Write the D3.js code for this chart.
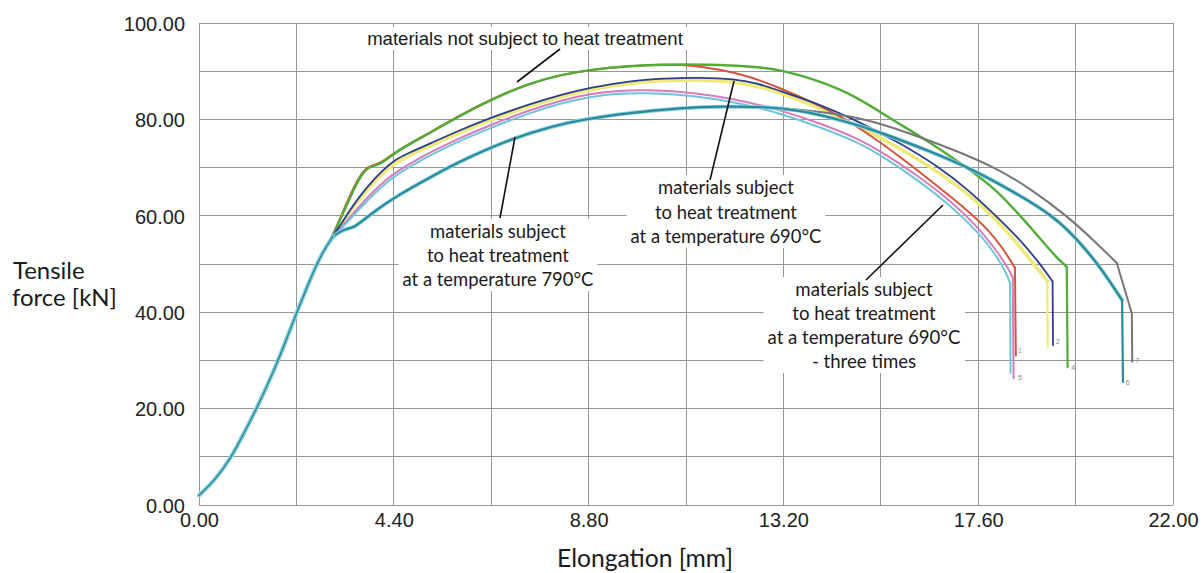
<!DOCTYPE html>
<html>
<head>
<meta charset="utf-8">
<script src="https://cdn.jsdelivr.net/npm/d3@7/dist/d3.min.js"></script>
<style>
  html, body { margin: 0; padding: 0; background: #ffffff; }
  svg { display: block; }
</style>
</head>
<body>
<svg id="chart" width="1202" height="573"></svg>
<script>
// ---------------- DATA (elongation mm, force kN) ----------------
const xTickLabels = [0, 4.4, 8.8, 13.2, 17.6, 22.0];
const yTickLabels = [0, 20, 40, 60, 80, 100];
const xGrid = [0, 2.2, 4.4, 6.6, 8.8, 11.0, 13.2, 15.4, 17.6, 19.8, 22.0];
const yGrid = [0, 10, 20, 30, 40, 50, 60, 70, 80, 90, 100];

const elastic = [[0,2],[0.35,5.0],[0.74,10],[1.02,15],[1.30,20],[1.55,25],[1.79,30],[2.0,35],[2.21,40],[2.43,45],[2.66,50],[2.85,53.3]];

// not subject to heat treatment
const greenCurve = [[3.03,55.9],[3.3,61.5],[3.57,67.0],[3.75,69.6],[3.91,70.3],[4.09,70.7],[4.3,72.2],[4.6,74.1],[5.22,77.2],[5.9,80.8],[6.57,84.0],[7.48,87.6],[8.2,89.3],[8.83,90.3],[9.74,91.1],[10.5,91.4],[11.5,91.4],[12.5,91.0],[13.2,90.2],[14.0,88.0],[14.8,85.0],[15.65,80.0],[16.5,75.3],[17.35,70.0],[18.0,65.5],[18.55,60.0],[19.0,55.3],[19.35,51.5],[19.6,49.4]];
const greenBreak = [[19.6,49.4],[19.62,28.6]];
const redCurve = [[3.03,56.0],[3.3,62.0],[3.57,67.4],[3.75,69.8],[3.91,70.5],[4.09,70.9],[4.3,72.3],[4.6,74.2],[5.22,77.3],[5.9,80.9],[6.57,84.1],[7.48,87.6],[8.2,89.3],[8.83,90.3],[9.74,91.1],[10.5,91.4],[11.1,91.3],[11.8,90.3],[12.45,88.9],[13.1,86.6],[13.8,83.8],[14.5,80.6],[15.15,76.8],[15.9,71.8],[16.7,66.0],[17.3,61.6],[17.8,57.4],[18.15,53.4],[18.43,49.2]];
const redBreak = [[18.43,49.2],[18.45,31.0]];

// heat treatment 690 °C
const yellowCurve = [[3.03,55.8],[3.3,59.3],[3.6,63.3],[4.0,67.5],[4.38,70.8],[4.8,72.8],[5.22,74.5],[5.9,77.3],[6.57,79.9],[7.48,82.8],[8.2,84.8],[8.83,86.2],[9.74,87.6],[10.5,88.1],[11.3,88.2],[12.1,87.8],[12.6,86.9],[13.1,85.6],[14.0,82.5],[15.0,78.2],[16.0,73.2],[17.0,67.3],[17.7,62.0],[18.3,56.4],[18.85,50.0],[19.16,46.5]];
const yellowBreak = [[19.16,46.5],[19.17,32.8]];
const navyCurve = [[3.03,55.8],[3.3,59.6],[3.6,63.8],[4.0,68.1],[4.38,71.5],[4.8,73.3],[5.22,75.0],[5.9,77.8],[6.57,80.3],[7.48,83.2],[8.2,85.2],[8.83,86.6],[9.74,88.0],[10.5,88.5],[11.3,88.7],[12.1,88.4],[12.6,87.5],[13.1,86.0],[14.0,83.2],[14.8,80.0],[15.8,75.3],[16.74,70.0],[17.4,65.2],[18.0,60.0],[18.55,55.0],[19.0,50.0],[19.28,46.4]];
const navyBreak = [[19.28,46.4],[19.29,33.2]];

// heat treatment 690 °C - three times
const pinkCurve = [[3.03,55.6],[3.3,58.6],[3.7,62.8],[4.09,66.5],[4.47,69.3],[5.22,73.2],[5.9,76.2],[6.57,78.8],[7.48,82.0],[8.2,84.0],[8.83,85.3],[9.5,86.0],[10.1,86.1],[10.8,85.8],[11.6,85.0],[12.4,83.6],[13.1,82.0],[14.0,79.3],[14.9,76.0],[15.5,72.8],[16.3,67.9],[17.0,62.9],[17.6,57.6],[18.0,53.0],[18.3,48.8],[18.38,47.2]];
const pinkBreak = [[18.38,47.2],[18.4,26.3]];
const lightBlueCurve = [[3.03,55.5],[3.3,58.2],[3.7,62.2],[4.09,65.8],[4.47,68.7],[5.22,72.6],[5.9,75.6],[6.57,78.2],[7.48,81.4],[8.2,83.4],[8.83,84.7],[9.5,85.4],[10.1,85.5],[10.8,85.2],[11.6,84.4],[12.4,83.0],[13.1,81.3],[14.0,78.5],[14.9,75.2],[15.5,72.0],[16.3,67.0],[17.0,61.9],[17.6,56.6],[18.0,52.0],[18.25,47.8],[18.32,46.0]];
const lightBlueBreak = [[18.32,46.0],[18.33,27.4]];

// heat treatment 790 °C
const tealCurve = [[3.03,55.8],[3.2,56.8],[3.34,57.3],[3.5,57.6],[3.7,59.0],[4.0,61.2],[4.5,64.3],[5.22,68.0],[6.0,71.8],[7.14,76.3],[8.0,78.6],[8.6,79.9],[9.74,81.4],[10.9,82.4],[11.8,82.7],[12.8,82.6],[13.5,82.0],[14.48,80.0],[15.5,77.0],[16.5,73.4],[17.4,70.0],[18.4,65.0],[19.3,60.0],[19.85,55.0],[20.3,50.0],[20.6,46.0],[20.85,42.5]];
const tealBreak = [[20.85,42.5],[20.87,25.5]];
const grayCurve = [[3.03,55.8],[3.2,56.8],[3.34,57.3],[3.5,57.6],[3.7,59.0],[4.0,61.2],[4.5,64.3],[5.22,68.0],[6.0,71.8],[7.14,76.3],[8.0,78.6],[8.6,79.9],[9.74,81.4],[10.9,82.4],[11.8,82.7],[12.8,82.6],[13.5,82.1],[14.3,81.3],[15.08,80.0],[16.0,77.3],[17.0,73.9],[18.0,70.0],[18.8,65.5],[19.6,60.0],[20.2,55.0],[20.73,50.2]];
const grayBreak = [[20.73,50.2],[21.07,39.8],[21.08,29.7]];

const endLabels = [["1",18.5,31.5],["5",18.5,26.0],["2",19.35,33.5],["4",19.7,28.0],["6",20.93,25.0],["7",21.15,29.5]];

const seriesNames = ["yellow","pink","lightBlue","red","green","navy","gray","teal"];
const seriesColors = ["#efe97a","#d57cb9","#6cc4df","#d3553a","#52ac38","#2b3e8c","#767676","#2a8a9b"];
const seriesWidths = [3.5,2,2,2,2.4,1.8,2,2.2];
const seriesCurves = [yellowCurve,pinkCurve,lightBlueCurve,redCurve,greenCurve,navyCurve,grayCurve,tealCurve];
const seriesBreaks = [yellowBreak,pinkBreak,lightBlueBreak,redBreak,greenBreak,navyBreak,grayBreak,tealBreak];

// ---------------- CHART ----------------
const svg = d3.select("#chart");
const x = d3.scaleLinear().domain([0, 22]).range([199, 1173]);
const y = d3.scaleLinear().domain([0, 100]).range([505, 23]);

const grid = svg.append("g");
grid.selectAll("line.v").data(xGrid).join("line")
  .attr("x1", d => x(d)).attr("x2", d => x(d))
  .attr("y1", y(0)).attr("y2", y(100))
  .attr("stroke", "#969696").attr("stroke-width", 1).attr("shape-rendering", "crispEdges");
grid.selectAll("line.h").data(yGrid).join("line")
  .attr("x1", x(0)).attr("x2", x(22))
  .attr("y1", d => y(d)).attr("y2", d => y(d))
  .attr("stroke", "#969696").attr("stroke-width", 1).attr("shape-rendering", "crispEdges");

// axes (labels only)
const fmt = d3.format(".2f");
const yAxis = svg.append("g").attr("transform", `translate(${x(0) - 14},0)`)
  .call(d3.axisLeft(y).tickValues(yTickLabels).tickFormat(fmt).tickSize(0).tickPadding(0));
yAxis.select(".domain").remove();
yAxis.selectAll("text").attr("font-family", "'Liberation Sans', Arial, sans-serif")
  .attr("font-size", 20).attr("fill", "#222").attr("dy", "0.36em");

const xAxis = svg.append("g").attr("transform", `translate(0,${y(0)})`)
  .call(d3.axisBottom(x).tickValues(xTickLabels).tickFormat(fmt).tickSize(0).tickPadding(8));
xAxis.select(".domain").remove();
xAxis.selectAll("text").attr("font-family", "'Liberation Sans', Arial, sans-serif")
  .attr("font-size", 20).attr("fill", "#222").attr("dy", "0.72em");

// curves
const smooth = d3.line().x(d => x(d[0])).y(d => y(d[1])).curve(d3.curveBasis);
const straight = d3.line().x(d => x(d[0])).y(d => y(d[1]));
const curves = svg.append("g").attr("fill", "none").attr("stroke-linejoin", "round").attr("stroke-linecap", "round");
seriesNames.forEach((name, i) => {
  const pts = elastic.concat(seriesCurves[i]);
  if (name === "teal") {
    curves.append("path").attr("d", smooth(pts))
      .attr("stroke", "#8fd2e0").attr("stroke-width", 4);
  }
  curves.append("path").attr("d", smooth(pts))
    .attr("stroke", seriesColors[i]).attr("stroke-width", seriesWidths[i]);
  curves.append("path").attr("d", straight(seriesBreaks[i]))
    .attr("stroke", seriesColors[i]).attr("stroke-width", Math.min(seriesWidths[i], 2.2));
});
// shared elastic part on top
curves.append("path").attr("d", smooth(elastic.concat([tealCurve[0]])))
  .attr("stroke", "#8fd3e2").attr("stroke-width", 4);
curves.append("path").attr("d", smooth(elastic.concat([tealCurve[0]])))
  .attr("stroke", "#2f8e9e").attr("stroke-width", 1.6);

svg.append("g").selectAll("text").data(endLabels).join("text")
  .attr("x", d => x(d[1])).attr("y", d => y(d[2]))
  .attr("font-family", "'Liberation Sans', Arial, sans-serif").attr("font-size", 7)
  .attr("fill", "#888").text(d => d[0]);

// ---------------- ANNOTATIONS ----------------
function fitBlock(lines, cx, firstBaseline, lineGap, targetW, family, size0, anchor) {
  const g = svg.append("g");
  const bg = g.append("rect").attr("fill", "#fff");
  const texts = lines.map((t, i) => g.append("text")
    .attr("x", cx).attr("y", firstBaseline + i * lineGap)
    .attr("text-anchor", anchor || "middle")
    .attr("font-family", family).attr("font-size", size0).attr("fill", "#1a1a1a").text(t));
  let maxW = d3.max(texts, t => t.node().getComputedTextLength());
  const fs = size0 * targetW / maxW;
  texts.forEach(t => t.attr("font-size", fs));
  const bb = g.node().getBBox();
  bg.attr("x", bb.x - 4).attr("y", bb.y - 1).attr("width", bb.width + 8).attr("height", bb.height + 2);
  return g;
}
function leader(x1, y1, x2, y2) {
  svg.append("line").attr("x1", x1).attr("y1", y1).attr("x2", x2).attr("y2", y2)
    .attr("stroke", "#111").attr("stroke-width", 1.6);
}

const latoFam = "Lato, 'Open Sans', sans-serif";
fitBlock(["materials not subject to heat treatment"], 525, 45, 0, 316, "'Liberation Sans', Arial, sans-serif", 17);
leader(560, 49, 517, 82);

fitBlock(["materials subject", "to heat treatment", "at a temperature 790°C"], 498, 238, 24, 191, latoFam, 18);
leader(500, 218, 515, 137);

fitBlock(["materials subject", "to heat treatment", "at a temperature 690°C"], 726, 194, 24.5, 191, latoFam, 18);
leader(710, 180, 734, 81);

fitBlock(["materials subject", "to heat treatment", "at a temperature 690°C", "- three times"], 864, 296, 24, 193, latoFam, 18);
leader(943, 205, 866, 280);

// axis titles
function fitText(t, cx, cy, targetW, anchor) {
  const el = svg.append("text").attr("x", cx).attr("y", cy).attr("text-anchor", anchor)
    .attr("font-family", latoFam).attr("font-size", 20).attr("fill", "#1a1a1a").text(t);
  const w = el.node().getComputedTextLength();
  el.attr("font-size", 20 * targetW / w);
  return el;
}
const fy = fitText("force [kN]", 12, 306, 105, "start");
svg.append("text").attr("x", 13).attr("y", 279).attr("font-family", latoFam)
  .attr("font-size", fy.attr("font-size")).attr("fill", "#1a1a1a").text("Tensile");
fitText("Elongation [mm]", 645, 567, 176, "middle");
</script>
</body>
</html>
